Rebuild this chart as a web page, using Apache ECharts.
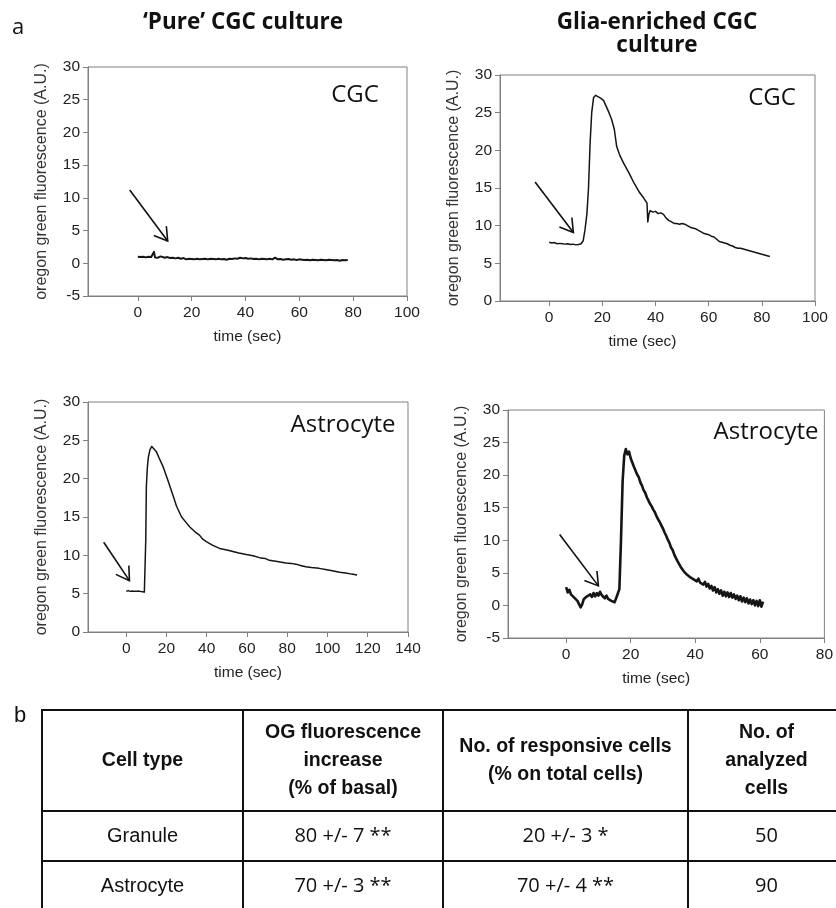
<!DOCTYPE html>
<html>
<head>
<meta charset="utf-8">
<script src="https://cdn.jsdelivr.net/npm/echarts@6/dist/echarts.min.js"></script>
<style>
html,body{margin:0;padding:0;background:#fff;}
#chart{width:836px;height:908px;}
</style>
</head>
<body>
<div id="chart"></div>
<script>
// ---------- DATA ----------
const panelTitles = ["\u2018Pure\u2019 CGC culture", "Glia-enriched CGC\nculture"];
const panelLabels = ["CGC", "CGC", "Astrocyte", "Astrocyte"];
const xAxisName = "time (sec)";
const yAxisName = "oregon green fluorescence (A.U.)";

const xTicksP1 = [0, 20, 40, 60, 80, 100];
const xTicksP2 = [0, 20, 40, 60, 80, 100];
const xTicksP3 = [0, 20, 40, 60, 80, 100, 120, 140];
const xTicksP4 = [0, 20, 40, 60, 80];

// panel 1: 'pure' culture, CGC
const pureCgcTrace = [[0,1.0],[0.5,0.85],[1,0.95],[1.5,1.1],[2,1.0],[2.5,0.8],[3,0.9],[3.5,1.05],[4,1.0],[4.5,0.85],[5,0.95],[5.6,1.2],[6,1.75],[6.4,0.9],[7,1.0],[7.5,0.85],[8,1.0],[8.5,1.05],[9,0.9],[10,0.85],[11,0.95],[12,0.8],[13,0.85],[14,0.75],[15,0.85],[16,0.7],[17,0.8],[18,0.6],[19,0.7],[20,0.65],[21,0.6],[22,0.7],[23,0.6],[24,0.65],[25,0.7],[26,0.6],[27,0.7],[28,0.65],[29,0.6],[30,0.7],[31,0.6],[32,0.65],[33,0.55],[34,0.7],[35,0.65],[36,0.75],[37,0.7],[38,0.85],[39,0.75],[40,0.8],[41,0.7],[42,0.75],[43,0.65],[44,0.7],[45,0.6],[46,0.7],[47,0.65],[48,0.6],[49,0.7],[50,0.6],[51,0.85],[52,0.6],[53,0.65],[54,0.55],[55,0.6],[56,0.65],[57,0.55],[58,0.6],[59,0.5],[60,0.6],[61,0.55],[62,0.5],[63,0.55],[64,0.45],[65,0.55],[66,0.5],[67,0.45],[68,0.55],[69,0.5],[70,0.45],[71,0.55],[72,0.5],[73,0.45],[74,0.5],[75,0.4],[76,0.5],[77,0.45],[78,0.5]];

// panel 2: glia-enriched culture, CGC
const gliaCgcTrace = [[0,7.8],[1,7.7],[2,7.75],[3,7.6],[4,7.65],[5,7.6],[6,7.55],[7,7.6],[8,7.5],[9,7.55],[10,7.45],[11,7.5],[12,7.6],[12.8,8.0],[13.5,9.5],[14.2,11.6],[14.8,15],[15.4,21],[16,25],[16.7,27],[17.5,27.3],[18.5,27.1],[19.5,26.9],[20.5,26.6],[21.5,25.8],[22.5,25],[23.5,24.1],[24.5,22.8],[25.4,20.5],[26.5,19.4],[28,18.3],[30,17],[32,15.6],[34,14.4],[35.5,13.7],[36.8,13],[37.1,10.5],[37.5,11.5],[38,12],[39,11.8],[40,11.9],[41,11.6],[42,11.7],[43,11.5],[44,11],[45,10.7],[46,10.5],[47,10.3],[48,10.3],[49,10.2],[50,10.3],[51,10.2],[52,10],[53,9.8],[54,9.7],[55,9.6],[56,9.4],[57,9.2],[58,9],[59,8.9],[60,8.8],[61,8.6],[62,8.5],[63,8.2],[64,7.9],[65,7.8],[66,7.7],[67,7.6],[68,7.4],[69,7.3],[70,7.1],[71,7.0],[72,7.0],[73,6.9],[74,6.8],[75,6.7],[76,6.6],[77,6.5],[78,6.4],[79,6.3],[80,6.2],[81,6.1],[82,6.0],[83,5.9]];

// panel 3: 'pure' culture, astrocyte
const pureAstroTrace = [[0,5.3],[1,5.4],[2,5.3],[3,5.35],[4,5.3],[5,5.3],[6,5.35],[7,5.3],[8,5.25],[9,5.2],[9.4,5.2],[9.7,12],[10,19],[10.5,21.5],[11,22.8],[11.8,23.8],[12.7,24.2],[13.6,24.1],[15,23.5],[16.5,22.6],[18.4,21.5],[20,20.3],[21.7,19],[23.5,17.6],[25,16.4],[27.5,15],[30,14.2],[31.6,13.7],[34,13.1],[36.5,12.6],[38,12.1],[39.8,11.8],[43,11.3],[46.4,10.9],[50,10.7],[53,10.5],[56,10.3],[59.6,10.1],[63,9.95],[66.2,9.7],[69,9.6],[71.1,9.35],[75,9.2],[79.3,9.0],[82,8.95],[84.3,8.85],[87,8.65],[89.2,8.5],[92,8.4],[95.8,8.3],[99,8.15],[102.4,8.0],[106,7.8],[109,7.7],[112,7.55],[114.7,7.45]];

// panel 4: glia-enriched culture, astrocyte
const gliaAstroTrace = [[0,2.8],[0.5,2.0],[1,2.4],[1.5,1.7],[2,1.9],[2.5,1.2],[3,1.4],[3.5,0.7],[4,0.5],[4.5,-0.3],[5,0.2],[5.5,1.0],[6,0.7],[6.5,1.4],[7,1.1],[7.5,1.7],[8,1.3],[8.5,1.9],[9,1.4],[9.5,1.9],[10,1.5],[10.5,2.1],[11,1.6],[11.5,1.8],[12,1.1],[12.5,1.5],[13,1.0],[13.5,1.3],[14,0.7],[14.5,1.0],[15,0.5],[15.5,1.1],[16,0.9],[16.5,2.5],[17,10],[17.5,19],[18,23],[18.5,24.0],[19,23.2],[19.5,23.6],[20,22.6],[20.5,22.3],[21,21.3],[21.5,21.0],[22,20.1],[22.5,19.7],[23,18.9],[23.5,18.4],[24,17.7],[24.5,17.3],[25,16.6],[25.5,16.3],[26,15.6],[26.5,15.2],[27,14.7],[27.5,14.3],[28,13.7],[28.5,13.2],[29,12.8],[29.5,12.3],[30,11.8],[30.5,11.2],[31,10.7],[31.5,10.1],[32,9.6],[32.5,8.9],[33,8.5],[33.5,7.8],[34,7.5],[34.5,6.8],[35,6.6],[35.5,5.9],[36,5.8],[36.5,5.2],[37,5.3],[37.5,4.7],[38,4.9],[38.5,4.3],[39,4.6],[39.5,4.0],[40,4.3],[40.5,3.7],[41,4.1],[41.5,3.5],[42,3.8],[42.5,3.2],[43,3.6],[43.5,2.9],[44,3.3],[44.5,2.6],[45,3.0],[45.5,2.3],[46,2.8],[46.5,2.0],[47,2.5],[47.5,1.8],[48,2.3],[48.5,1.5],[49,2.1],[49.5,1.4],[50,2.0],[50.5,1.3],[51,1.9],[51.5,1.2],[52,1.7],[52.5,1.0],[53,1.5],[53.5,0.8],[54,1.4],[54.5,0.6],[55,1.2],[55.5,0.5],[56,1.1],[56.5,0.3],[57,0.9],[57.5,0.2],[58,0.8],[58.5,0.0],[59,0.7],[59.5,-0.1],[60,0.8],[60.5,-0.2],[61,0.6]];

// stimulus arrows [xStart, yStart, xEnd, yEnd] in data units
const arrowP1 = [-3, 11.2, 11.1, 3.4];
const arrowP2 = [-5.3, 15.8, 9.1, 9.1];
const arrowP3 = [-11.2, 11.7, 1.6, 6.7];
const arrowP4 = [-2, 10.9, 10, 3];

// table (panel b)
const tableHeader = ["Cell type", "OG fluorescence\nincrease\n(% of basal)", "No. of responsive cells\n(% on total cells)", "No. of\nanalyzed\ncells"];
const cellTypes = ["Granule", "Astrocyte"];
const ogIncrease = ["80 +/- 7 **", "70 +/- 3 **"];
const responsiveCells = ["20 +/- 3 *", "70 +/- 4 **"];
const analyzedCells = ["50", "90"];

// ---------- CHART ----------
const ARIAL = "'Liberation Sans', Arial, sans-serif";
const CALIBRI = "'Open Sans', 'Noto Sans', sans-serif";
const AXIS_GRAY = '#808080';

function xAxisCfg(gi, min, max, ticks, namePadRight) {
  return {
    type: 'value', gridIndex: gi, min: min, max: max,
    axisLine: { show: true, onZero: false, lineStyle: { color: AXIS_GRAY, width: 1 } },
    axisTick: { show: true, customValues: ticks, length: 5, lineStyle: { color: AXIS_GRAY } },
    axisLabel: { customValues: ticks, fontSize: 15.5, color: '#222', fontFamily: ARIAL, margin: 9 },
    splitLine: { show: false },
    name: xAxisName, nameLocation: 'middle', nameGap: 33,
    nameTextStyle: { fontSize: 15.5, color: '#222', fontFamily: ARIAL, padding: [0, namePadRight, 0, 0] }
  };
}
function yAxisCfg(gi, min, max) {
  return {
    type: 'value', gridIndex: gi, min: min, max: max, interval: 5,
    axisLine: { show: true, onZero: false, lineStyle: { color: AXIS_GRAY, width: 1 } },
    axisTick: { show: true, length: 5, lineStyle: { color: AXIS_GRAY } },
    axisLabel: { fontSize: 15.5, color: '#222', fontFamily: ARIAL, margin: 8 },
    splitLine: { show: false },
    name: yAxisName, nameLocation: 'middle', nameGap: 38, nameRotate: 90,
    nameTextStyle: { fontSize: 16, color: '#333', fontFamily: ARIAL }
  };
}
function lineSeries(idx, data, width) {
  return {
    type: 'line', xAxisIndex: idx, yAxisIndex: idx, data: data,
    showSymbol: false, symbol: 'none', animation: false, silent: true,
    lineStyle: { color: '#151515', width: width, join: 'round' }
  };
}
function arrowSeries(idx, arr) {
  return {
    type: 'custom', xAxisIndex: idx, yAxisIndex: idx, data: [arr],
    encode: { x: [0, 2], y: [1, 3] }, animation: false, silent: true, clip: false,
    renderItem: function (params, api) {
      const p1 = api.coord([api.value(0), api.value(1)]);
      const p2 = api.coord([api.value(2), api.value(3)]);
      const ang = Math.atan2(p2[1] - p1[1], p2[0] - p1[0]);
      const L = 15, a = 0.55;
      const h1 = [p2[0] - L * Math.cos(ang - a), p2[1] - L * Math.sin(ang - a)];
      const h2 = [p2[0] - L * Math.cos(ang + a), p2[1] - L * Math.sin(ang + a)];
      return {
        type: 'group', children: [
          { type: 'line', shape: { x1: p1[0], y1: p1[1], x2: p2[0], y2: p2[1] }, style: { stroke: '#111', lineWidth: 1.6 } },
          { type: 'polyline', shape: { points: [h1, p2, h2] }, style: { stroke: '#111', lineWidth: 1.6, fill: null } }
        ]
      };
    }
  };
}

const gridStyle = { show: true, borderColor: AXIS_GRAY, borderWidth: 1, backgroundColor: 'transparent', containLabel: false };

// table graphics
const colEdges = [42, 243, 443, 688, 845];
const rowEdges = [710, 811, 861, 912];
const tableGraphics = [];
colEdges.forEach(function (x) {
  tableGraphics.push({ type: 'line', shape: { x1: x, y1: rowEdges[0] - 1, x2: x, y2: rowEdges[3] }, style: { stroke: '#111', lineWidth: 2 } });
});
rowEdges.forEach(function (y) {
  tableGraphics.push({ type: 'line', shape: { x1: colEdges[0] - 1, y1: y, x2: colEdges[4], y2: y }, style: { stroke: '#111', lineWidth: 2 } });
});
function cellText(ci, ri, text, font, bold, size, lh) {
  const cx = (colEdges[ci] + colEdges[ci + 1]) / 2;
  const cy = (rowEdges[ri] + rowEdges[ri + 1]) / 2;
  return { type: 'text', x: cx, y: cy, style: { text: text, fontFamily: font, fontWeight: bold ? 'bold' : 'normal', fontSize: size, lineHeight: lh || size * 1.2, fill: '#111', align: 'center', verticalAlign: 'middle' } };
}
tableHeader.forEach(function (t, ci) { tableGraphics.push(cellText(ci, 0, t, ARIAL, true, 19.5, 28)); });
cellTypes.forEach(function (t, ri) { tableGraphics.push(cellText(0, ri + 1, t, ARIAL, false, 20)); });
ogIncrease.forEach(function (t, ri) { tableGraphics.push(cellText(1, ri + 1, t, CALIBRI, false, 20)); });
responsiveCells.forEach(function (t, ri) { tableGraphics.push(cellText(2, ri + 1, t, CALIBRI, false, 20)); });
analyzedCells.forEach(function (t, ri) { tableGraphics.push(cellText(3, ri + 1, t, CALIBRI, false, 20)); });

const textGraphics = [
  { type: 'text', x: 18, y: 28, style: { text: 'a', fontFamily: CALIBRI, fontSize: 22, fill: '#111', align: 'center', verticalAlign: 'middle' } },
  { type: 'text', x: 20, y: 716, style: { text: 'b', fontFamily: ARIAL, fontSize: 22, fill: '#111', align: 'center', verticalAlign: 'middle' } },
  { type: 'text', x: 243, y: 23, style: { text: panelTitles[0], fontFamily: CALIBRI, fontWeight: 'bold', fontSize: 22.5, fill: '#111', align: 'center', verticalAlign: 'middle' } },
  { type: 'text', x: 657, y: 34, style: { text: panelTitles[1], fontFamily: CALIBRI, fontWeight: 'bold', fontSize: 22.5, lineHeight: 23, fill: '#111', align: 'center', verticalAlign: 'middle' } },
  { type: 'text', x: 355, y: 95, style: { text: panelLabels[0], fontFamily: CALIBRI, fontSize: 24, fill: '#111', align: 'center', verticalAlign: 'middle' } },
  { type: 'text', x: 772, y: 98, style: { text: panelLabels[1], fontFamily: CALIBRI, fontSize: 24, fill: '#111', align: 'center', verticalAlign: 'middle' } },
  { type: 'text', x: 343, y: 425, style: { text: panelLabels[2], fontFamily: CALIBRI, fontSize: 24, fill: '#111', align: 'center', verticalAlign: 'middle' } },
  { type: 'text', x: 766, y: 432, style: { text: panelLabels[3], fontFamily: CALIBRI, fontSize: 24, fill: '#111', align: 'center', verticalAlign: 'middle' } }
];

const chart = echarts.init(document.getElementById('chart'), null, { renderer: 'canvas' });
chart.setOption({
  backgroundColor: '#ffffff',
  animation: false,
  grid: [
    Object.assign({ left: 88, right: 429, top: 67, bottom: 612 }, gridStyle),
    Object.assign({ left: 500, right: 21, top: 75, bottom: 607 }, gridStyle),
    Object.assign({ left: 88, right: 428, top: 402, bottom: 276 }, gridStyle),
    Object.assign({ left: 508, right: 9, top: 410, bottom: 270 }, gridStyle)
  ],
  xAxis: [
    xAxisCfg(0, -18.5, 100, xTicksP1, 0),
    xAxisCfg(1, -18.5, 100, xTicksP2, 30),
    xAxisCfg(2, -19, 140, xTicksP3, 0),
    xAxisCfg(3, -18, 80, xTicksP4, 20)
  ],
  yAxis: [
    yAxisCfg(0, -5, 30),
    yAxisCfg(1, 0, 30),
    yAxisCfg(2, 0, 30),
    yAxisCfg(3, -5, 30)
  ],
  series: [
    lineSeries(0, pureCgcTrace, 2),
    lineSeries(1, gliaCgcTrace, 1.5),
    lineSeries(2, pureAstroTrace, 1.5),
    lineSeries(3, gliaAstroTrace, 2.6),
    arrowSeries(0, arrowP1),
    arrowSeries(1, arrowP2),
    arrowSeries(2, arrowP3),
    arrowSeries(3, arrowP4)
  ],
  graphic: textGraphics.concat(tableGraphics)
});
</script>
</body>
</html>
